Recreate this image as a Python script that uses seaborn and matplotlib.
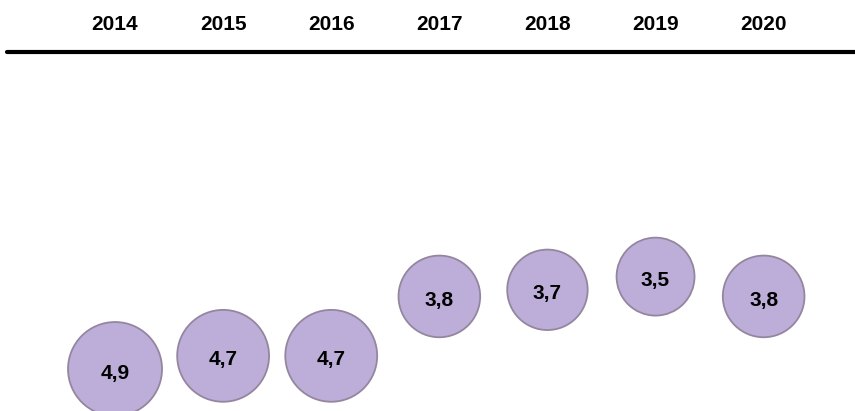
import matplotlib
matplotlib.use("Agg")
import matplotlib.pyplot as plt
import matplotlib.transforms as mtransforms
import seaborn as sns
import pandas as pd

# data
years = ["2014", "2015", "2016", "2017", "2018", "2019", "2020"]
values = [4.9, 4.7, 4.7, 3.8, 3.7, 3.5, 3.8]
labels = ["4,9", "4,7", "4,7", "3,8", "3,7", "3,5", "3,8"]

df = pd.DataFrame({"pos": range(len(years)), "value": values})

sns.set_theme(style="white")
plt.rcParams["font.family"] = ["Liberation Sans", "DejaVu Sans"]

fig = plt.figure(figsize=(8.55, 4.11), dpi=100)
ax = fig.add_axes([0, 0, 1, 1])

sns.scatterplot(data=df, x="pos", y="value", size="value",
                sizes=(3150, 4580), size_norm=(3.5, 4.9),
                color="#bcaed8", edgecolor="#95869f", linewidth=1.3,
                legend=False, ax=ax, zorder=2)

for i, lab in enumerate(labels):
    ax.annotate(lab, (i, values[i]), xytext=(0, -3), textcoords="offset points",
                ha="center", va="center", fontsize=15, fontweight="bold",
                color="black", zorder=3)

# year header and thick rule
trans = mtransforms.blended_transform_factory(ax.transData, ax.transAxes)
for i, yr in enumerate(years):
    ax.text(i, 1 - 25 / 411, yr, transform=trans, ha="center", va="center",
            fontsize=15, fontweight="bold", color="black")
ax.axhline(-0.691 + 52 / 66, xmin=7 / 855, xmax=1, color="black", linewidth=3)

ax.set_xlim(-1.064, 6.845)
ax.set_ylim(5.536, -0.691)
ax.axis("off")

fig.savefig("out.png", dpi=100)
